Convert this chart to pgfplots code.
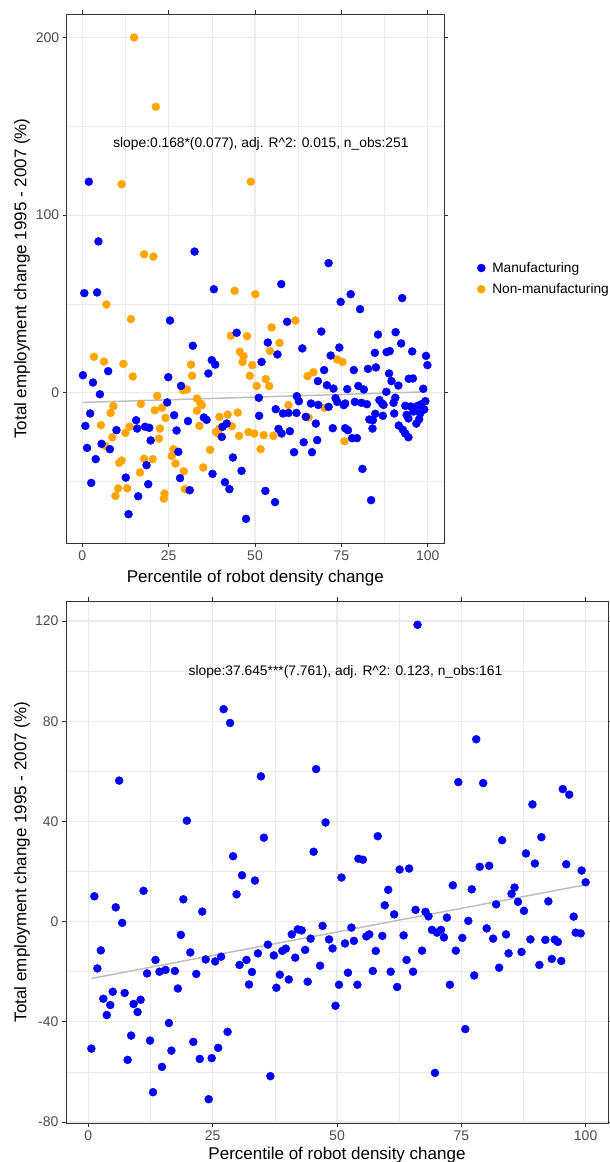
\documentclass[border=0pt]{standalone}
\usepackage{fontspec}
\setmainfont{Liberation Sans}
\usepackage{pgfplots}
\pgfplotsset{compat=1.18}
\definecolor{gridc}{HTML}{EBEBEB}
\definecolor{framec}{HTML}{333333}
\definecolor{tickc}{HTML}{4D4D4D}
\definecolor{fitc}{HTML}{BEBEBE}
\definecolor{mblue}{HTML}{0000FF}
\definecolor{morange}{HTML}{FFA500}
\pgfplotsset{
  rstyle/.style={
    scale only axis, enlargelimits=false,
    axis line style={framec, line width=0.9pt},
    tick align=outside, major tick length=4pt, minor tick length=0pt,
    major tick style={framec, line width=0.9pt},
    grid=both,
    major grid style={gridc, line width=1.2pt},
    minor grid style={gridc, line width=0.6pt},
    xtick={0,25,50,75,100},
    minor xtick={12.5,37.5,62.5,87.5},
    /pgf/number format/assume math mode=true,
    tick label style={font=\fontsize{14}{16}\selectfont, text=tickc},
    label style={font=\fontsize{17}{20}\selectfont},
    xlabel={Percentile of robot density change},
    ylabel={Total employment change 1995 - 2007 (\%)},
  },
  bpts/.style={only marks, mark=*, mark size=4pt, mblue, mark options={draw=none, fill=mblue}},
  opts/.style={only marks, mark=*, mark size=4pt, morange, mark options={draw=none, fill=morange}},
}
\begin{document}
\begin{tikzpicture}
\useasboundingbox (0pt,0pt) rectangle (610pt,1162pt);
% ---------------- top panel ----------------
\begin{axis}[rstyle,
  at={(66.7pt,619pt)}, anchor=south west,
  width=377.3pt, height=529pt,
  xmin=-4.5, xmax=104.7, ymin=-84.5, ymax=213.2,
  ytick={0,100,200}, minor ytick={-50,50,150},
  xlabel style={at={(axis description cs:0.5,-0.0662)}, anchor=center},
  ylabel style={at={(axis description cs:-0.1185,0.5)}, anchor=center},
  legend style={draw=none, fill=none, at={(axis description cs:1.0798,0.4997)}, anchor=west,
    font=\fontsize{13.7}{16}\selectfont, row sep=5.8pt,
    /tikz/every odd column/.append style={column sep=5pt}},
  legend cell align=left,
  legend image code/.code={\draw[#1] plot coordinates {(0pt,0pt)};},
]
\addplot[opts, forget plot] coordinates {
(15.0,200) (21.3,161) (48.8,118.8) (11.4,117.4) (17.9,78.0) (20.6,76.7)
(7.0,49.7) (44.1,57.4) (50.1,55.5) (14.1,41.5) (61.7,40.7) (54.8,36.8) (43.0,32.1) (47.7,31.9)
(57.1,28.1) (54.3,23.6) (45.6,23.1) (46.7,20.6) (46.4,17.4) (3.4,20.3) (6.3,17.6) (11.9,16.3)
(49.2,15.6) (73.8,18.8) (75.3,17.4) (14.6,9.2) (31.5,15.9) (31.8,9.6) (48.5,9.6) (66.9,11.6)
(65.2,9.4) (53.1,7.7) (54.1,3.8) (50.5,3.9) (29.2,1.5) (30.3,1.9) (21.7,-1.7) (33.2,-3.2)
(17.0,-6.2) (9.0,-7.5) (34.2,-6.0) (34.6,-6.9) (59.7,-6.9) (70.1,-8.4) (8.2,-11.3) (21.0,-9.8)
(23.1,-8.4) (33.2,-10.1) (24.1,-14.1) (39.7,-13.5) (42.1,-12.2) (45.0,-11.1) (65.5,-13.9)
(5.4,-18.2) (13.7,-19.1) (22.5,-20.1) (12.5,-22.5) (33.9,-18.6) (43.3,-18.8) (38.7,-22.0)
(39.7,-20.1) (39.4,-22.9) (8.7,-25.0) (22.2,-25.7) (45.4,-24.2) (48.1,-22.1) (49.8,-22.9)
(52.5,-23.8) (55.3,-24.2) (6.6,-29.8) (26.4,-31.7) (25.9,-35.6) (37.0,-32.1) (51.6,-31.7)
(75.9,-27.2) (17.9,-37.1) (20.4,-37.3) (27.0,-39.8) (10.7,-39.4) (11.4,-38.1) (16.7,-44.8)
(35.0,-42.0) (29.4,-44.1) (10.4,-53.8) (13.0,-53.7) (9.6,-58.0) (23.8,-56.7) (23.6,-59.5)
(29.7,-54.2)
};
\addplot[bpts] coordinates {
(1.9,118.8) (4.7,85.2) (32.5,79.5) (71.3,73.0)
(0.6,56.1) (4.3,56.5) (38.1,58.3) (57.6,61.2) (74.8,51.2) (77.7,55.5) (80.4,47.1) (92.6,53.3)
(25.4,40.7) (59.3,40.0) (44.7,33.8) (69.2,34.5) (85.6,32.8) (90.7,34.1)
(32.0,26.5) (53.7,28.3) (63.7,25.0) (56.5,21.6) (74.4,25.5) (92.3,27.8) (95.5,23.3) (89.0,23.5)
(88.1,22.9) (84.7,22.5) (71.9,21.0) (99.5,20.8) (37.5,18.4) (38.5,15.9) (51.9,17.4) (99.9,15.6)
(0.2,9.9) (7.5,12.2) (24.9,8.8) (36.5,10.9) (70.0,12.8) (78.6,12.8) (82.7,13.5) (85.0,14.3)
(88.8,10.9) (94.5,7.9) (95.7,8.1) (3.1,5.8) (68.2,6.6) (89.5,6.6) (28.6,3.9) (70.8,4.3)
(72.7,2.4) (91.5,4.1) (79.9,3.9) (76.7,2.1) (81.5,1.9)
(5.1,-0.8) (51.1,-2.8) (62.1,-1.9) (62.7,-4.7) (98.7,2.3) (88.0,0.6) (24.6,-5.4) (66.2,-6.0)
(68.3,-6.8) (73.3,-3.0) (76.1,-6.0) (73.8,-5.1) (78.9,-5.1) (80.8,-5.6) (82.4,-6.4) (86.0,-4.1)
(86.8,-6.0) (90.1,-5.6) (90.6,-2.8) (93.5,-7.3) (95.1,-7.7) (97.1,-7.3) (99.3,-4.7) (98.2,-6.4)
(56.0,-9.2) (71.3,-7.9) (75.7,-6.9) (87.2,-6.8)
(2.3,-11.6) (26.6,-12.6) (15.6,-15.4) (35.2,-13.9) (36.0,-15.2) (51.2,-12.9) (58.1,-11.6)
(59.7,-11.3) (62.0,-11.3) (64.7,-13.5) (84.8,-11.8) (87.0,-12.9) (84.1,-15.4) (90.3,-11.6)
(93.9,-12.4) (95.9,-10.5) (97.8,-11.6) (99.0,-9.4) (97.5,-14.8) (96.7,-17.3) (94.4,-14.4)
(83.1,-15.0) (0.9,-18.6) (15.9,-20.1) (18.2,-19.1) (19.4,-19.7) (9.9,-21.0) (30.6,-15.9)
(41.8,-17.3) (40.6,-19.1) (67.6,-17.3) (72.5,-19.9) (76.1,-19.9) (76.9,-21.0) (84.0,-20.1)
(91.6,-18.4) (92.8,-20.8) (40.4,-24.8) (27.3,-21.2) (56.8,-20.3)
(19.8,-26.8) (57.7,-22.9) (60.1,-21.6) (78.1,-25.5) (79.5,-25.5) (93.5,-22.9) (94.4,-25.0)
(1.4,-31.0) (5.6,-28.7) (8.0,-31.7) (68.0,-26.6) (64.1,-27.8) (61.3,-33.4) (66.5,-33.4) (27.8,-33.2)
(3.9,-37.3) (18.6,-40.7) (43.6,-36.4) (46.1,-43.9) (37.7,-45.6) (81.1,-42.8) (12.6,-47.7)
(28.3,-48.0) (2.6,-50.7) (19.1,-51.4) (41.3,-50.3)
(31.1,-54.8) (42.6,-54.2) (53.0,-55.2) (16.2,-58.2) (55.8,-61.5) (83.6,-60.4) (13.4,-68.3) (47.4,-70.9)
};
\addlegendentry{Manufacturing}
\addlegendimage{opts}
\addlegendentry{Non-manufacturing}
\addplot[fitc, line width=1.5pt, forget plot] coordinates {(0.2,-5.4) (99.9,0.6)};
\node[font=\fontsize{13.8}{16}\selectfont] at (axis cs:51.7,139.8)
  {slope:0.168*(0.077), adj. R\textasciicircum 2: 0.015, n\_obs:251};
\end{axis}
% ---------------- bottom panel ----------------
\begin{axis}[rstyle,
  at={(66pt,39pt)}, anchor=south west,
  width=542pt, height=522pt,
  xmin=-4.5, xmax=104.5, ymin=-80.4, ymax=128,
  ytick={-80,-40,0,40,80,120}, minor ytick={-60,-20,20,60,100},
  xlabel style={at={(axis description cs:0.5,-0.0613)}, anchor=center},
  ylabel style={at={(axis description cs:-0.0812,0.5)}, anchor=center},
]
\addplot[bpts] coordinates {
(66.2,118.5) (27.2,84.8) (28.5,79.3) (78.0,72.8) (45.8,60.9) (34.7,58.0) (6.2,56.3) (74.4,55.7)
(79.4,55.3) (95.4,52.9) (96.7,50.7) (89.3,46.8) (19.8,40.3) (47.7,39.6) (58.2,34.1) (35.3,33.5)
(83.2,32.5) (45.3,27.9) (88.0,27.2) (91.1,33.7) (29.1,26.1) (54.3,25.1) (55.2,24.7) (89.8,23.2)
(78.7,21.9) (80.6,22.3) (96.1,22.9) (62.6,20.8) (64.5,21.2) (99.2,20.4)
(30.9,18.5) (33.5,16.4) (50.9,17.6) (100.0,15.7) (73.3,14.5) (85.7,13.6) (85.1,11.1) (86.4,7.9)
(82.0,6.9) (92.5,8.1) (87.6,4.3) (77.1,12.9) (1.2,10.1) (11.1,12.3) (5.5,5.7) (6.8,-0.5)
(19.1,8.9) (22.9,4.0) (29.8,10.9) (60.3,12.7) (59.6,6.5) (61.5,2.9) (65.8,4.7) (67.8,3.9)
(68.4,2.1) (72.1,1.6) (76.4,0.3) (97.6,2.0) (98.0,-4.4) (99.0,-4.7) (80.1,-2.7) (81.4,-6.8)
(84.0,-5.1) (88.9,-7.1) (91.9,-7.3) (93.8,-7.2) (94.4,-8.1) (84.5,-12.7) (87.1,-12.1) (93.2,-14.9)
(95.1,-15.7) (90.7,-17.3) (82.6,-18.4) (77.6,-21.5) (75.2,-6.5) (73.9,-11.6) (71.5,-6.3) (70.9,-3.3)
(70.1,-4.4) (69.1,-3.3) (63.4,-5.5) (67.1,-11.6) (64.0,-15.3) (65.3,-20.0) (59.1,-5.7) (57.8,-11.7)
(56.5,-5.1) (55.9,-5.9) (52.9,-2.4) (53.4,-7.7) (51.6,-8.7) (60.8,-20.0) (57.2,-19.7) (52.2,-20.4)
(62.1,-26.1) (72.7,-25.2) (69.7,-60.4) (75.8,-42.9) (54.1,-25.2) (50.4,-25.2) (49.7,-33.6) (47.1,-1.7)
(48.4,-7.1) (49.1,-10.7) (46.6,-17.6) (44.7,-6.8) (43.6,-11.3) (44.1,-24.0) (42.9,-3.5) (42.1,-3.1)
(40.9,-5.1) (41.6,-14.4) (39.7,-10.8) (39.0,-11.7) (40.3,-23.1) (38.5,-21.2) (37.3,-13.5) (37.8,-26.4)
(36.1,-9.2) (34.1,-12.7) (32.9,-20.1) (32.3,-25.1) (31.8,-15.3) (30.4,-17.3) (36.6,-61.7) (26.7,-14.0)
(25.5,-15.9) (23.6,-15.1) (20.5,-12.3) (18.6,-5.3) (21.7,-20.9) (18.0,-26.7) (17.4,-19.7) (15.5,-19.3)
(14.3,-20.0) (13.5,-15.3) (11.8,-20.7) (10.5,-31.2) (9.9,-36.1) (9.1,-32.9) (7.3,-28.5) (4.9,-28.0)
(4.4,-33.3) (3.0,-30.8) (3.7,-37.3) (2.5,-11.5) (1.8,-18.7) (0.6,-50.7) (8.6,-45.5) (7.9,-55.2)
(12.4,-47.5) (13.0,-68.1) (14.8,-58.0) (16.2,-40.5) (16.7,-51.5) (21.1,-48.0) (22.4,-54.8) (24.8,-54.5)
(26.1,-50.4) (28.0,-44.0) (24.2,-70.9)
};
\addplot[fitc, line width=1.5pt] coordinates {(0.6,-22.7) (100,14.7)};
\node[font=\fontsize{13.8}{16}\selectfont] at (axis cs:51.7,99.6)
  {slope:37.645***(7.761), adj. R\textasciicircum 2: 0.123, n\_obs:161};
\end{axis}
\end{tikzpicture}
\end{document}
